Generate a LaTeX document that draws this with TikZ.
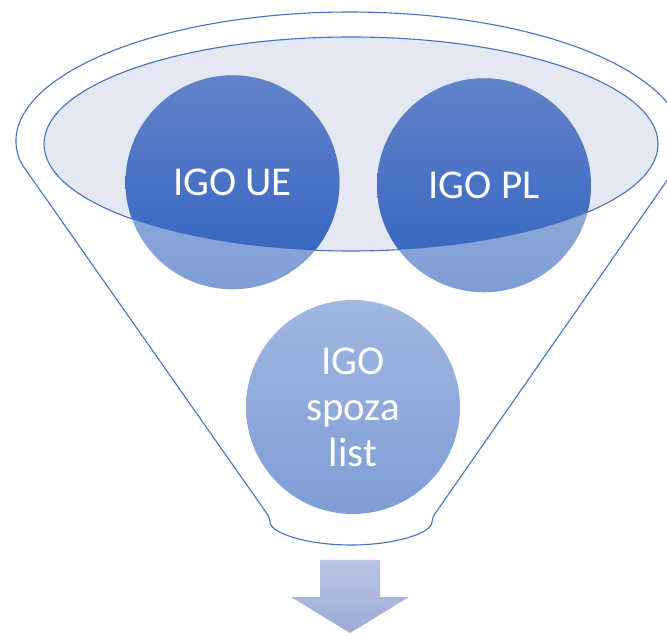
\documentclass[tikz,border=0pt]{standalone}
\usepackage{fontspec}
\setmainfont{Carlito}

\definecolor{funnelblue}{HTML}{4472C4}
\definecolor{openfill}{HTML}{E3E8F3}
\definecolor{darktop}{HTML}{6283C9}
\definecolor{darkbottom}{HTML}{3162C0}
\definecolor{bubbletop}{HTML}{A1B6E0}
\definecolor{bubblebottom}{HTML}{7E9ED5}
\definecolor{arrowtop}{HTML}{B9C4E6}
\definecolor{arrowbottom}{HTML}{9CAAD6}

\tikzset{
  bubble/.style={circle, minimum size=214pt, inner sep=0pt, top color=bubbletop, bottom color=bubblebottom},
  bubbletext/.style={text=white, align=center, font=\fontsize{41}{46}\selectfont}
}

\begin{document}
\begin{tikzpicture}[x=1pt,y=1pt]
\useasboundingbox (0,0) rectangle (667,635);

% Funnel outline
\draw[funnelblue,line width=1.1pt,rounded corners=4pt] (21,472) arc[start angle=188.78,end angle=-8.78,x radius=333,y radius=131]
  -- (432,117) arc[start angle=0,end angle=-180,x radius=81,y radius=27] -- cycle;

% Top opening
\filldraw[fill=openfill,draw=funnelblue,line width=1.1pt] (351,491) ellipse[x radius=307,y radius=107];

% Circles
\node[bubble] (igoue) at (232.5,452.7) {};
\node[bubble] (igopl) at (484,449.7) {};
\node[bubble] (igospoza) at (353,228) {};

% Darker parts inside the opening
\begin{scope}
\clip (351,491) ellipse[x radius=307,y radius=107];
\shade[top color=darktop,bottom color=darkbottom] (igoue.center) circle (107pt);
\shade[top color=darktop,bottom color=darkbottom] (igopl.center) circle (107pt);
\end{scope}

% Labels
\node[bubbletext] (igouetext) at (igoue) {IGO UE};
\node[bubbletext] (igopltext) at (igopl) {IGO PL};
\node[bubbletext] (igospozatext) at (igospoza) {IGO\\spoza\\list};

% Arrow below the funnel
\shade[top color=arrowtop,bottom color=arrowbottom] (320,75) -- (380,75) -- (380,38) -- (409,38)
  -- (350,2) -- (291,38) -- (320,38) -- cycle;

\end{tikzpicture}
\end{document}
